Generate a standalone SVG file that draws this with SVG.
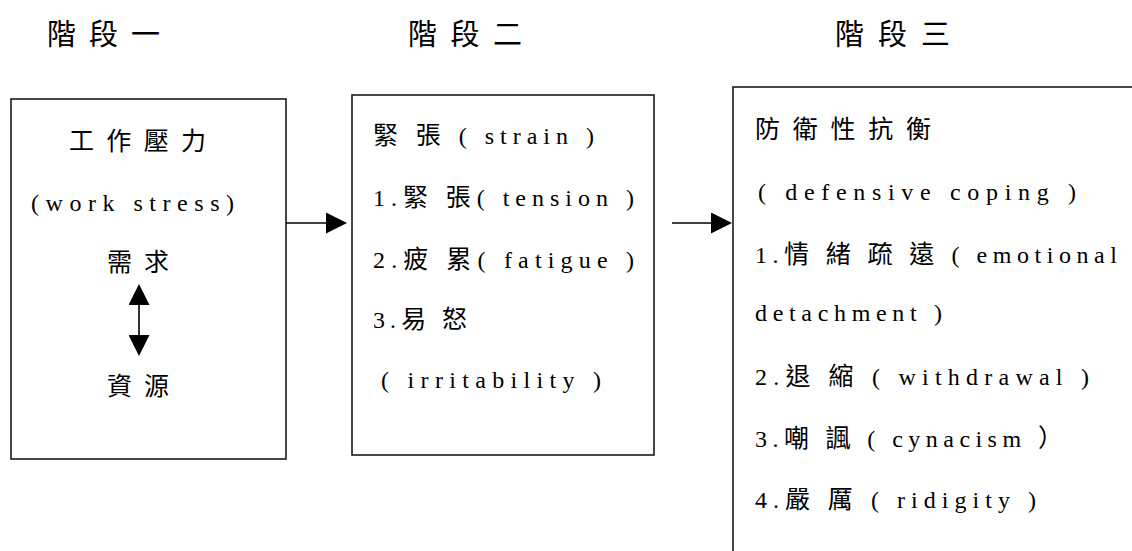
<svg xmlns="http://www.w3.org/2000/svg" width="1132" height="551" viewBox="0 0 1132 551">
  <style>
    .box { fill: #ffffff; stroke: #1a1a1a; stroke-width: 1.6; }
    .hdr { font-size: 29px; fill: #000; }
    .lat { font-size: 24px; fill: #000; }
    .c { font-size: 25px; }
    .conn { stroke: #000; stroke-width: 1.6; fill: none; }
  </style>
  <defs>
    <marker id="ah" viewBox="0 0 21 21" markerUnits="userSpaceOnUse" markerWidth="21" markerHeight="21" refX="16" refY="10.5" orient="auto-start-reverse">
      <path d="M0,0 L21,10.5 L0,21 Z" fill="#000"/>
    </marker>
  </defs>
  <rect width="1132" height="551" fill="#ffffff"/>

  <g id="headers">
    <text class="hdr" style="font-family:'Noto Sans CJK TC',sans-serif !important" x="47" y="45" textLength="113" lengthAdjust="spacing">階 段 一</text>
    <text class="hdr" style="font-family:'Noto Sans CJK TC',sans-serif !important" x="408" y="45" textLength="114" lengthAdjust="spacing">階 段 二</text>
    <text class="hdr" style="font-family:'Noto Sans CJK TC',sans-serif !important" x="835" y="45" textLength="115" lengthAdjust="spacing">階 段 三</text>
  </g>

  <g id="node-stage1">
    <rect class="box" x="11" y="99" width="275" height="360"/>
    <text class="lat c" style="font-family:'Noto Sans CJK TC',sans-serif !important" x="69" y="150" textLength="137" lengthAdjust="spacing">工 作 壓 力</text>
    <text class="lat" style="font-family:'Liberation Serif',serif !important" x="31" y="211" textLength="203" lengthAdjust="spacing">(work stress)</text>
    <text class="lat c" style="font-family:'Noto Sans CJK TC',sans-serif !important" x="107" y="271" textLength="62" lengthAdjust="spacing">需 求</text>
    <text class="lat c" style="font-family:'Noto Sans CJK TC',sans-serif !important" x="107" y="395" textLength="62" lengthAdjust="spacing">資 源</text>
  </g>

  <g id="node-stage2">
    <rect class="box" x="352" y="95" width="302" height="360"/>
    <text class="lat" style="font-family:'Liberation Serif',serif !important" x="373" y="144" textLength="221" lengthAdjust="spacing"><tspan class="c" style="font-family:'Noto Sans CJK TC',sans-serif !important">緊 張</tspan> ( strain )</text>
    <text class="lat" style="font-family:'Liberation Serif',serif !important" x="373" y="206" textLength="261" lengthAdjust="spacing">1.<tspan class="c" style="font-family:'Noto Sans CJK TC',sans-serif !important">緊 張</tspan>( tension )</text>
    <text class="lat" style="font-family:'Liberation Serif',serif !important" x="373" y="268" textLength="261" lengthAdjust="spacing">2.<tspan class="c" style="font-family:'Noto Sans CJK TC',sans-serif !important">疲 累</tspan>( fatigue )</text>
    <text class="lat" style="font-family:'Liberation Serif',serif !important" x="373" y="328" textLength="94" lengthAdjust="spacing">3.<tspan class="c" style="font-family:'Noto Sans CJK TC',sans-serif !important">易 怒</tspan></text>
    <text class="lat" style="font-family:'Liberation Serif',serif !important" x="381" y="388" textLength="220" lengthAdjust="spacing">( irritability )</text>
  </g>

  <g id="node-stage3">
    <rect class="box" x="733" y="87" width="500" height="500"/>
    <text class="lat c" style="font-family:'Noto Sans CJK TC',sans-serif !important" x="755" y="138" textLength="176" lengthAdjust="spacing">防 衛 性 抗 衡</text>
    <text class="lat" style="font-family:'Liberation Serif',serif !important" x="758" y="200" textLength="318" lengthAdjust="spacing">( defensive coping )</text>
    <text class="lat" style="font-family:'Liberation Serif',serif !important" x="755" y="263" textLength="362" lengthAdjust="spacing">1.<tspan class="c" style="font-family:'Noto Sans CJK TC',sans-serif !important">情 緒 疏 遠</tspan> ( emotional</text>
    <text class="lat" style="font-family:'Liberation Serif',serif !important" x="755" y="321" textLength="187" lengthAdjust="spacing">detachment )</text>
    <text class="lat" style="font-family:'Liberation Serif',serif !important" x="755" y="385" textLength="334" lengthAdjust="spacing">2.<tspan class="c" style="font-family:'Noto Sans CJK TC',sans-serif !important">退 縮</tspan> ( withdrawal )</text>
    <text class="lat" style="font-family:'Liberation Serif',serif !important" x="755" y="447" textLength="308" lengthAdjust="spacing">3.<tspan class="c" style="font-family:'Noto Sans CJK TC',sans-serif !important">嘲 諷</tspan> ( cynacism <tspan class="c" style="font-family:'Noto Sans CJK TC',sans-serif !important">）</tspan></text>
    <text class="lat" style="font-family:'Liberation Serif',serif !important" x="755" y="508" textLength="281" lengthAdjust="spacing">4.<tspan class="c" style="font-family:'Noto Sans CJK TC',sans-serif !important">嚴 厲</tspan> ( ridigity )</text>
  </g>

  <g id="connectors">
    <line class="conn" x1="286" y1="223" x2="342" y2="223" marker-end="url(#ah)"/>
    <line class="conn" x1="672" y1="223" x2="727" y2="223" marker-end="url(#ah)"/>
    <line class="conn" x1="139" y1="289" x2="139" y2="351" marker-start="url(#ah)" marker-end="url(#ah)"/>
  </g>
</svg>
